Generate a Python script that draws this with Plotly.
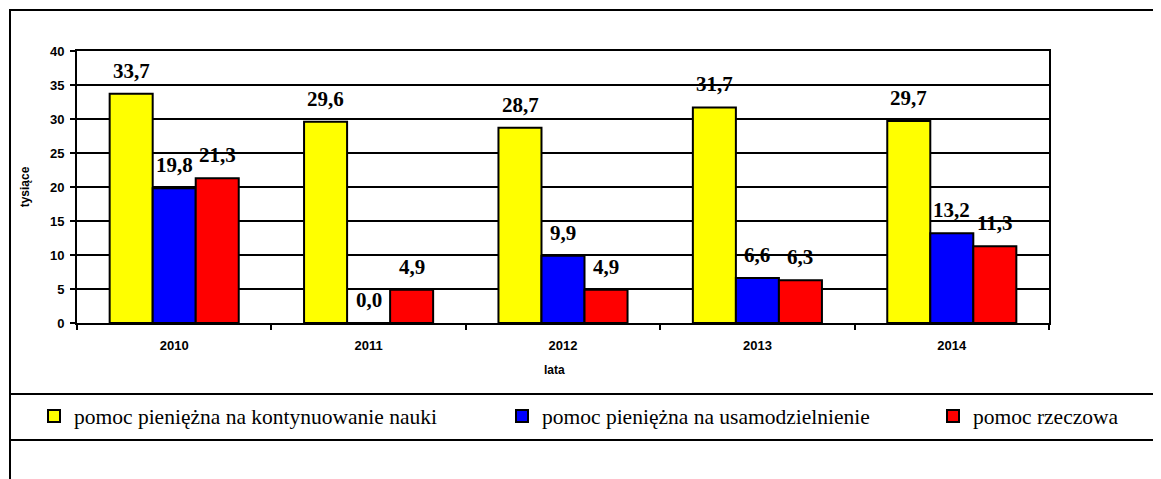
import plotly.graph_objects as go

years = ['2010', '2011', '2012', '2013', '2014']
series_names = [
    'pomoc pieniężna na kontynuowanie nauki',
    'pomoc pieniężna na usamodzielnienie',
    'pomoc rzeczowa',
]
nauka = [33.7, 29.6, 28.7, 31.7, 29.7]
usamodzielnienie = [19.8, 0.0, 9.9, 6.6, 13.2]
rzeczowa = [21.3, 4.9, 4.9, 6.3, 11.3]
y_ticks = [0, 5, 10, 15, 20, 25, 30, 35, 40]

colors = ['#FFFF00', '#0000FF', '#FF0000']
all_values = [nauka, usamodzielnienie, rzeczowa]

# the page puts the figure 8px in from the top-left corner
OFF = 8
W, H = 1161 - OFF, 479 - OFF
# plot area in screenshot pixels
L, R, T, B = 77, 1049, 51, 323


def px(x):
    return (x - L) / (R - L)


def py(y):
    return (B - y) / (B - T)


fig = go.Figure()

legend_text_x = [74, 542, 973]
for i, (name, vals) in enumerate(zip(series_names, all_values)):
    fig.add_trace(go.Bar(
        x=years, y=vals, name=name,
        marker=dict(color=colors[i], line=dict(color='black', width=2)),
        legend='legend' if i == 0 else f'legend{i + 1}',
    ))

# data labels above the bars (x given as category index)
bar_px = 43
for i, vals in enumerate(all_values):
    for j, v in enumerate(vals):
        fig.add_annotation(
            x=j, y=v, text=f'{v:.1f}'.replace('.', ','),
            showarrow=False, xshift=(i - 1) * bar_px, yshift=23, yanchor='middle',
            font=dict(family='Liberation Serif', size=21, color='black', weight='bold'),
        )

# x axis title
fig.add_annotation(x=px(554), y=py(370), xref='paper', yref='paper', text='lata',
                   xanchor='center', yanchor='middle', showarrow=False,
                   font=dict(family='Liberation Sans', size=12, color='black', weight='bold'))

legend_style = dict(orientation='h', xanchor='left', yanchor='middle', y=py(416),
                    bgcolor='rgba(0,0,0,0)', borderwidth=0,
                    font=dict(family='Liberation Serif', size=21.5, color='black'))

# outer frame and legend box
fig.add_shape(type='rect', xref='paper', yref='paper', x0=px(10), x1=px(1175), y0=py(495), y1=py(10),
              line=dict(color='black', width=2), layer='below')
fig.add_shape(type='rect', xref='paper', yref='paper', x0=px(10), x1=px(1157), y0=py(440), y1=py(394),
              line=dict(color='black', width=2), fillcolor='white', layer='below')

fig.update_layout(
    width=W, height=H,
    margin=dict(l=L - OFF, r=W - (R - OFF), t=T - OFF, b=H - (B - OFF), autoexpand=False),
    paper_bgcolor='white', plot_bgcolor='white',
    barmode='group', bargap=0.336, bargroupgap=0,
    showlegend=True,
    legend=dict(x=px(legend_text_x[0] - 40), **legend_style),
    legend2=dict(x=px(legend_text_x[1] - 40), **legend_style),
    legend3=dict(x=px(legend_text_x[2] - 40), **legend_style),
    xaxis=dict(
        type='category', range=[-0.5, 4.5], tickson='boundaries', ticks='outside', ticklen=5, tickwidth=2,
        tickcolor='black', showline=True, linecolor='black', linewidth=2, mirror=True, showgrid=False,
        tickfont=dict(family='Liberation Sans', size=13, color='black', weight='bold'),
        ticklabelstandoff=9,
    ),
    yaxis=dict(
        range=[0, 40], tickvals=y_ticks, ticks='outside', ticklen=5, tickwidth=2, tickcolor='black',
        showline=True, linecolor='black', linewidth=2, mirror=True,
        showgrid=True, gridcolor='black', gridwidth=2, zeroline=False,
        tickfont=dict(family='Liberation Sans', size=13, color='black', weight='bold'),
        ticklabelstandoff=3,
        title=dict(text='tysiące', standoff=18,
                   font=dict(family='Liberation Sans', size=12, color='black', weight='bold')),
    ),
)

fig.write_html('out.html')
